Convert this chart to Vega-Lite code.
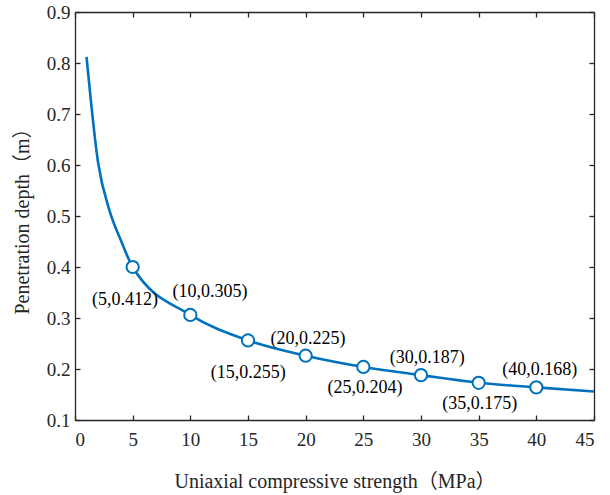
{
  "$schema": "https://vega.github.io/schema/vega-lite/v6.json",
  "autosize": "none",
  "padding": {"left": 75, "top": 12, "right": 16, "bottom": 75},
  "width": 519,
  "height": 408,
  "background": "white",
  "config": {
    "view": {"stroke": null},
    "font": "Liberation Serif",
    "axis": {
      "grid": false,
      "domainColor": "#262626",
      "domainWidth": 1.3,
      "tickColor": "#262626",
      "tickWidth": 1.3,
      "labelFont": "Liberation Serif",
      "labelFontSize": 19,
      "labelColor": "#262626",
      "titleFont": "Liberation Serif, Noto Sans CJK SC",
      "titleFontSize": 20,
      "titleFontWeight": "normal",
      "titleColor": "#262626"
    }
  },
  "datasets": {
    "curve": [
      {"strength": 1, "depth": 0.812, "marker": false},
      {"strength": 2, "depth": 0.605, "marker": false},
      {"strength": 3, "depth": 0.51, "marker": false},
      {"strength": 4, "depth": 0.451, "marker": false},
      {"strength": 5, "depth": 0.4, "marker": true},
      {"strength": 10, "depth": 0.306, "marker": true},
      {"strength": 15, "depth": 0.256, "marker": true},
      {"strength": 20, "depth": 0.226, "marker": true},
      {"strength": 25, "depth": 0.204, "marker": true},
      {"strength": 30, "depth": 0.188, "marker": true},
      {"strength": 35, "depth": 0.173, "marker": true},
      {"strength": 40, "depth": 0.164, "marker": true},
      {"strength": 45, "depth": 0.156, "marker": false}
    ],
    "labels": [
      {"lx": 4.34, "ly": 0.336, "label": "(5,0.412)"},
      {"lx": 11.7, "ly": 0.351, "label": "(10,0.305)"},
      {"lx": 15.03, "ly": 0.193, "label": "(15,0.255)"},
      {"lx": 20.2, "ly": 0.258, "label": "(20,0.225)"},
      {"lx": 25.15, "ly": 0.162, "label": "(25,0.204)"},
      {"lx": 30.55, "ly": 0.221, "label": "(30,0.187)"},
      {"lx": 35.1, "ly": 0.132, "label": "(35,0.175)"},
      {"lx": 40.3, "ly": 0.198, "label": "(40,0.168)"}
    ]
  },
  "resolve": {"axis": {"x": "independent", "y": "independent"}},
  "layer": [
    {
      "data": {"name": "curve"},
      "mark": {"type": "line", "color": "#0072BD", "strokeWidth": 2.6, "interpolate": "monotone"},
      "encoding": {
        "x": {
          "field": "strength", "type": "quantitative",
          "scale": {"domain": [0, 45], "nice": false, "zero": false},
          "axis": {
            "orient": "bottom",
            "values": [0, 5, 10, 15, 20, 25, 30, 35, 40, 45],
            "tickSize": -5,
            "labelPadding": 15,
            "title": "Uniaxial compressive strength（MPa）",
            "titlePadding": 22
          }
        },
        "y": {
          "field": "depth", "type": "quantitative",
          "scale": {"domain": [0.1, 0.9], "nice": false, "zero": false},
          "axis": {
            "orient": "left",
            "values": [0.1, 0.2, 0.3, 0.4, 0.5, 0.6, 0.7, 0.8, 0.9],
            "format": ".1f",
            "tickSize": -5,
            "labelPadding": 10,
            "title": "Penetration depth（m）",
            "titlePadding": 14
          }
        }
      }
    },
    {
      "data": {"name": "curve"},
      "mark": {"type": "point", "opacity": 0},
      "encoding": {
        "x": {
          "field": "strength", "type": "quantitative",
          "axis": {
            "orient": "top",
            "values": [0, 5, 10, 15, 20, 25, 30, 35, 40, 45],
            "tickSize": -5,
            "labels": false,
            "title": null
          }
        },
        "y": {
          "field": "depth", "type": "quantitative",
          "axis": {
            "orient": "right",
            "values": [0.1, 0.2, 0.3, 0.4, 0.5, 0.6, 0.7, 0.8, 0.9],
            "tickSize": -5,
            "labels": false,
            "title": null
          }
        }
      }
    },
    {
      "data": {"name": "curve"},
      "transform": [{"filter": "datum.marker"}],
      "mark": {"type": "point", "shape": "circle", "filled": true, "fill": "white", "stroke": "#0072BD", "strokeWidth": 2, "size": 150, "opacity": 1},
      "encoding": {
        "x": {"field": "strength", "type": "quantitative", "axis": null},
        "y": {"field": "depth", "type": "quantitative", "axis": null}
      }
    },
    {
      "data": {"name": "labels"},
      "mark": {"type": "text", "font": "Liberation Serif", "fontSize": 18, "color": "#000000", "align": "center", "baseline": "middle"},
      "encoding": {
        "x": {"field": "lx", "type": "quantitative", "axis": null},
        "y": {"field": "ly", "type": "quantitative", "axis": null},
        "text": {"field": "label"}
      }
    }
  ]
}
